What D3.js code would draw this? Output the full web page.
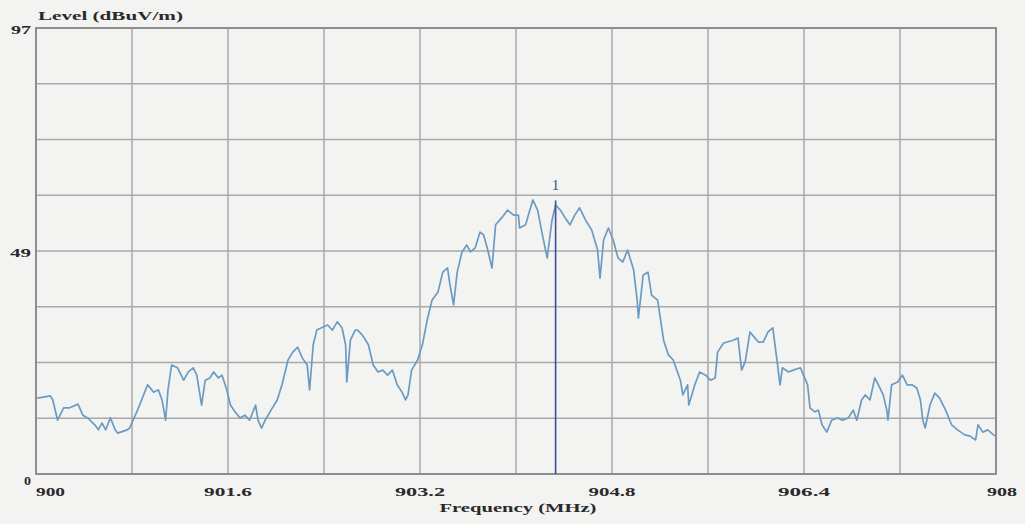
<!DOCTYPE html>
<html><head><meta charset="utf-8">
<script src="https://cdn.jsdelivr.net/npm/d3@7"></script>
<style>
html,body{margin:0;padding:0;background:#f3f3f2;}
svg{display:block;}
text{font-family:"Liberation Serif","DejaVu Serif",serif;font-weight:bold;fill:#2a2a2a;}
</style></head>
<body>
<script>
// ---- data ----
const freqs = [900.01,900.12,900.14,900.18,900.23,900.28,900.35,900.39,900.43,900.49,900.52,900.55,900.58,900.62,900.66,900.68,900.76,900.78,900.84,900.88,900.93,900.98,901.02,901.05,901.08,901.10,901.13,901.18,901.23,901.27,901.31,901.34,901.38,901.41,901.45,901.48,901.52,901.55,901.59,901.62,901.66,901.70,901.74,901.78,901.83,901.85,901.88,901.91,901.95,902.01,902.05,902.10,902.14,902.18,902.22,902.26,902.28,902.31,902.34,902.38,902.43,902.47,902.51,902.55,902.58,902.59,902.62,902.66,902.68,902.72,902.77,902.81,902.85,902.89,902.93,902.97,903.01,903.05,903.08,903.10,903.13,903.18,903.22,903.26,903.30,903.35,903.39,903.43,903.45,903.48,903.51,903.55,903.59,903.62,903.66,903.70,903.73,903.76,903.80,903.83,903.88,903.93,903.98,904.02,904.03,904.08,904.14,904.18,904.22,904.26,904.30,904.33,904.37,904.41,904.45,904.49,904.53,904.58,904.63,904.68,904.70,904.73,904.77,904.81,904.85,904.89,904.93,904.98,905.01,905.02,905.06,905.10,905.13,905.18,905.23,905.27,905.31,905.37,905.39,905.43,905.44,905.47,905.49,905.53,905.58,905.62,905.66,905.68,905.73,905.81,905.85,905.88,905.91,905.95,905.99,906.02,906.06,906.10,906.14,906.18,906.20,906.22,906.27,906.31,906.37,906.43,906.45,906.49,906.52,906.55,906.59,906.63,906.68,906.72,906.77,906.81,906.84,906.88,906.91,906.95,906.99,907.02,907.06,907.09,907.10,907.13,907.18,907.22,907.26,907.30,907.34,907.37,907.39,907.41,907.45,907.49,907.53,907.58,907.63,907.68,907.74,907.78,907.83,907.85,907.89,907.93,907.99];
const levels = [16.5,17.0,16.1,11.7,14.4,14.4,15.2,12.8,12.2,10.7,9.6,11.1,9.6,12.2,9.6,8.9,9.6,10.0,13.5,16.1,19.4,17.8,18.3,16.1,11.7,18.3,23.7,23.1,20.4,22.2,23.1,21.5,15.0,20.4,20.9,22.2,20.9,21.5,18.3,15.0,13.5,12.2,12.8,11.7,15.0,11.7,10.0,11.7,13.5,16.1,19.4,24.8,26.5,27.6,25.2,23.7,18.3,28.1,31.3,31.8,32.4,31.3,33.1,31.8,28.1,20.0,29.1,31.3,31.3,30.2,28.1,23.7,22.2,22.6,21.5,22.6,19.4,17.8,16.1,17.2,22.6,24.8,28.1,33.5,37.8,39.6,43.9,44.8,41.1,36.8,43.9,48.3,49.8,48.3,49.2,52.6,52.0,49.2,44.8,54.2,55.7,57.4,56.3,56.3,53.5,54.2,59.6,57.4,52.0,47.0,55.2,58.5,57.4,55.7,54.2,56.3,57.9,55.2,53.1,48.7,42.6,50.9,53.5,50.9,47.0,46.1,48.7,44.4,37.8,33.9,43.3,43.9,38.9,37.8,29.1,25.9,24.8,20.4,17.2,19.4,15.0,17.6,19.4,22.2,21.5,20.4,20.9,26.5,28.5,29.1,29.6,22.6,24.4,30.9,29.6,28.7,28.7,30.9,31.8,23.7,19.4,23.1,22.2,22.6,23.1,19.4,14.4,13.5,13.9,10.7,9.1,11.7,12.2,11.7,12.2,13.9,11.7,16.1,17.2,16.1,20.9,19.4,17.2,13.9,11.7,19.4,20.0,21.5,19.4,19.4,18.7,16.1,11.7,10.0,15.0,17.6,16.5,13.9,10.7,9.6,8.5,8.3,7.4,10.7,9.1,9.6,8.3];
const xTickValues = [900, 901.6, 903.2, 904.8, 906.4, 908];
const xTickLabels = ["900", "901.6", "903.2", "904.8", "906.4", "908"];
const yTickValues = [0, 48.5, 97];
const yTickLabels = ["0", "49", "97"];
const markerFreq = 904.33;
const markerLabel = "1";
const yTitle = "Level (dBuV/m)";
const xTitle = "Frequency (MHz)";

// ---- layout ----
const W = 1025, H = 524;
const m = {left: 36, right: 29, top: 28, bottom: 50};
const iw = W - m.left - m.right, ih = H - m.top - m.bottom;

const svg = d3.select("body").append("svg").attr("width", W).attr("height", H);
const g = svg.append("g").attr("transform", `translate(${m.left},${m.top})`);

const x = d3.scaleLinear().domain([900, 908]).range([0, iw]);
const y = d3.scaleLinear().domain([0, 97]).range([ih, 0]);

// grid
const gridX = d3.range(0, 11).map(i => 900 + i * 0.8);
const gridY = d3.range(0, 9).map(i => i * 97 / 8);
g.selectAll(".gx").data(gridX).join("line")
  .attr("x1", d => x(d)).attr("x2", d => x(d)).attr("y1", 0).attr("y2", ih)
  .attr("stroke", "#a9a9a9").attr("stroke-width", 1.5);
g.selectAll(".gy").data(gridY).join("line")
  .attr("x1", 0).attr("x2", iw).attr("y1", d => y(d)).attr("y2", d => y(d))
  .attr("stroke", "#a9a9a9").attr("stroke-width", 1.5);
g.append("rect").attr("width", iw).attr("height", ih)
  .attr("fill", "none").attr("stroke", "#8e8e8e").attr("stroke-width", 2);

// trace
const pts = freqs.map((f, i) => [f, levels[i]]);
g.append("path").datum(pts)
  .attr("fill", "none").attr("stroke", "#6b9bc3").attr("stroke-width", 1.7)
  .attr("stroke-linejoin", "round")
  .attr("d", d3.line().x(d => x(d[0])).y(d => y(d[1])));

// marker
g.append("line").attr("x1", x(markerFreq)).attr("x2", x(markerFreq))
  .attr("y1", y(59.5)).attr("y2", ih)
  .attr("stroke", "#3c4f9c").attr("stroke-width", 1.6);
g.append("text").attr("x", x(markerFreq)).attr("y", y(59.5) - 10)
  .attr("text-anchor", "middle").style("font-weight", "normal").style("fill", "#3c4f9c")
  .style("font-size", "15px").text(markerLabel);

// x tick labels
const xw = [29, 48, 50, 47, 52, 30];
g.selectAll(".xl").data(xTickValues).join("text")
  .attr("x", (d, i) => i === xTickValues.length - 1 ? x(d) + 6 : x(d))
  .attr("y", ih + 22)
  .attr("text-anchor", (d, i) => i === 0 ? "start" : "middle")
  .style("font-size", "12px")
  .attr("textLength", (d, i) => xw[i]).attr("lengthAdjust", "spacingAndGlyphs")
  .text((d, i) => xTickLabels[i]);

// y tick labels
const yw = [7, 21, 20];
const yoff = [11, 6, 6];
svg.selectAll(".yl").data(yTickValues).join("text")
  .attr("x", 31).attr("y", (d, i) => m.top + y(d) + yoff[i])
  .attr("text-anchor", "end").style("font-size", "12px")
  .attr("textLength", (d, i) => yw[i]).attr("lengthAdjust", "spacingAndGlyphs")
  .text((d, i) => yTickLabels[i]);

// titles
svg.append("text").attr("x", 38).attr("y", 20).style("font-size", "13px")
  .attr("textLength", 145).attr("lengthAdjust", "spacingAndGlyphs").text(yTitle);
svg.append("text").attr("x", 518).attr("y", 512).attr("text-anchor", "middle")
  .style("font-size", "13px")
  .attr("textLength", 157).attr("lengthAdjust", "spacingAndGlyphs").text(xTitle);
</script>
</body></html>
